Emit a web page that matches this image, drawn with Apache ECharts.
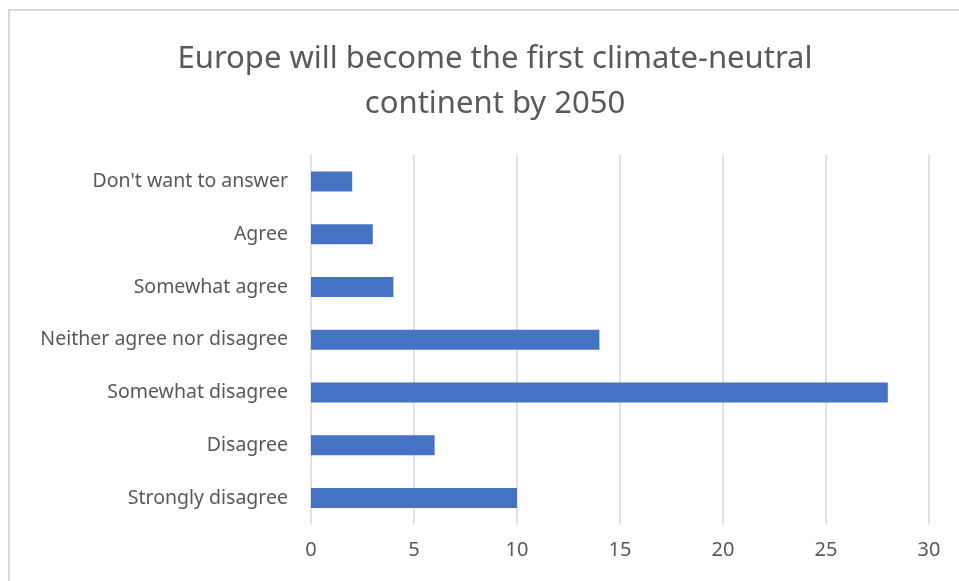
<!DOCTYPE html>
<html>
<head>
<meta charset="utf-8">
<script src="https://cdn.jsdelivr.net/npm/echarts@6/dist/echarts.min.js"></script>
<style>html,body{margin:0;padding:0;background:#fff}#c{width:959px;height:581px}</style>
</head>
<body>
<div id="c"></div>
<script>
const categories = ["Don't want to answer", "Agree", "Somewhat agree", "Neither agree nor disagree", "Somewhat disagree", "Disagree", "Strongly disagree"];
const values = [2, 3, 4, 14, 28, 6, 10];
const titleText = "Europe will become the first climate-neutral\ncontinent by 2050";

const chart = echarts.init(document.getElementById('c'), null, {renderer: 'canvas'});
chart.setOption({
  animation: false,
  backgroundColor: '#ffffff',
  title: {
    text: titleText,
    left: 490, top: 32, textAlign: 'center',
    textStyle: {fontFamily: 'Noto Sans', fontSize: 31, fontWeight: 'normal', color: '#595959', lineHeight: 45}
  },
  graphic: [{
    type: 'rect', silent: true,
    shape: {x: 9, y: 10, width: 1000, height: 700},
    style: {fill: 'none', stroke: '#d9d9d9', lineWidth: 2}
  }],
  grid: {left: 311, right: 30, top: 155, bottom: 56.5, containLabel: false},
  xAxis: {
    type: 'value', min: 0, max: 30, interval: 5,
    axisLine: {show: false}, axisTick: {show: false},
    splitLine: {show: true, lineStyle: {color: '#d9d9d9', width: 1.5}},
    axisLabel: {color: '#595959', fontSize: 20, fontFamily: 'Noto Sans', margin: 16}
  },
  yAxis: {
    type: 'category', data: categories, inverse: true,
    axisLine: {show: false}, axisTick: {show: false},
    axisLabel: {color: '#595959', fontSize: 19.5, fontFamily: 'Noto Sans', margin: 23}
  },
  series: [{
    type: 'bar', data: values, barWidth: 20,
    itemStyle: {color: '#4472c4'}
  }]
});
</script>
</body>
</html>
